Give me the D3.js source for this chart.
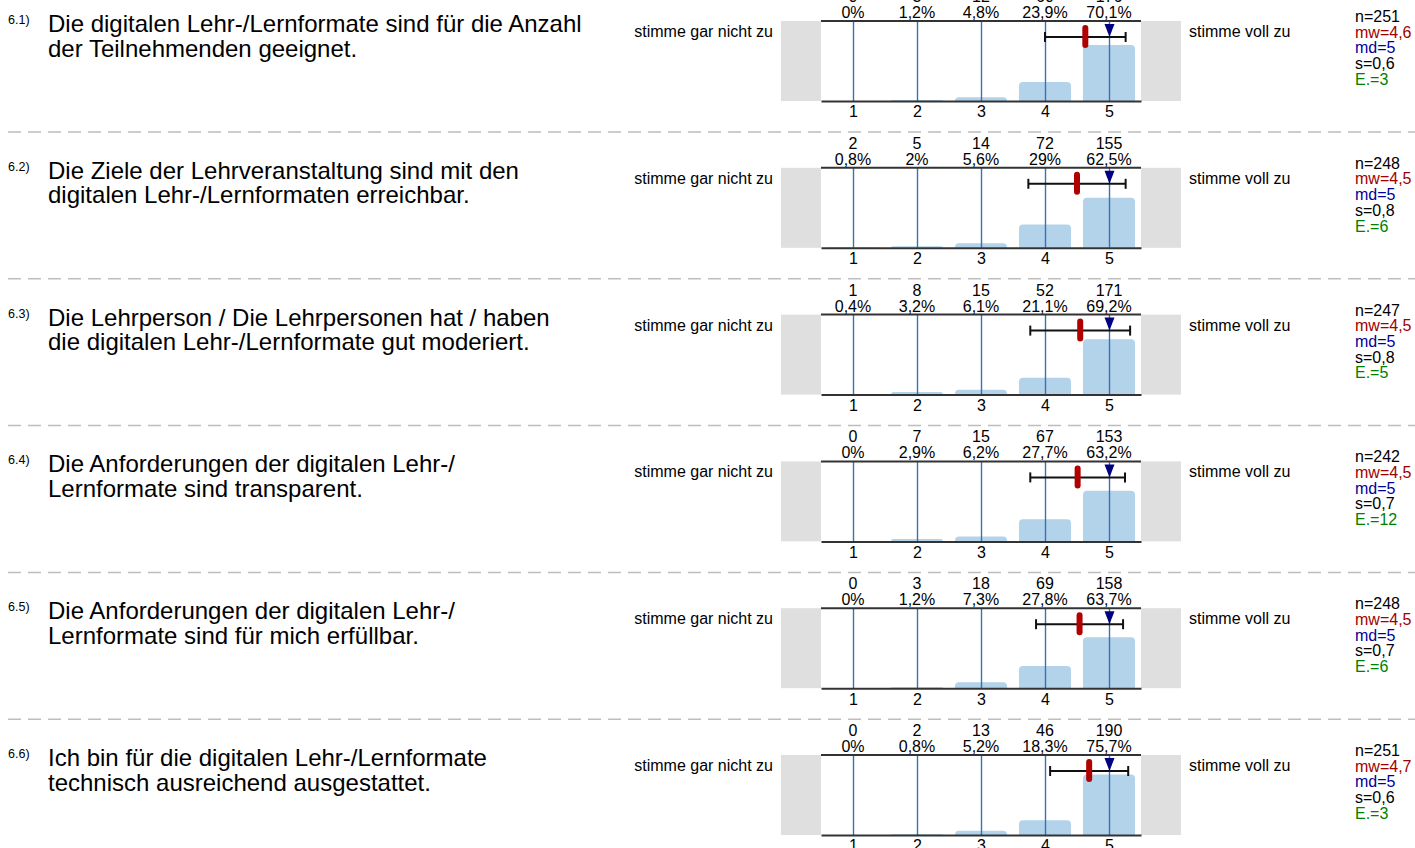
<!DOCTYPE html>
<html>
<head>
<meta charset="utf-8">
<script src="https://cdn.jsdelivr.net/npm/d3@7"></script>
<style>
body { margin: 0; background: #fff; }
svg { display: block; font-family: "Liberation Sans", Arial, sans-serif; }
</style>
</head>
<body>
<div id="chart"></div>
<script>
// chart size
var width = 1415, height = 848;

// data
var numbers = ["6.1)", "6.2)", "6.3)", "6.4)", "6.5)", "6.6)"];
var questions = [
  ["Die digitalen Lehr-/Lernformate sind für die Anzahl", "der Teilnehmenden geeignet."],
  ["Die Ziele der Lehrveranstaltung sind mit den", "digitalen Lehr-/Lernformaten erreichbar."],
  ["Die Lehrperson / Die Lehrpersonen hat / haben", "die digitalen Lehr-/Lernformate gut moderiert."],
  ["Die Anforderungen der digitalen Lehr-/", "Lernformate sind transparent."],
  ["Die Anforderungen der digitalen Lehr-/", "Lernformate sind für mich erfüllbar."],
  ["Ich bin für die digitalen Lehr-/Lernformate", "technisch ausreichend ausgestattet."]
];
var scale = [1, 2, 3, 4, 5];
var counts = [
  [0, 3, 12, 60, 176],
  [2, 5, 14, 72, 155],
  [1, 8, 15, 52, 171],
  [0, 7, 15, 67, 153],
  [0, 3, 18, 69, 158],
  [0, 2, 13, 46, 190]
];
var percents = [
  [0, 1.2, 4.8, 23.9, 70.1],
  [0.8, 2, 5.6, 29, 62.5],
  [0.4, 3.2, 6.1, 21.1, 69.2],
  [0, 2.9, 6.2, 27.7, 63.2],
  [0, 1.2, 7.3, 27.8, 63.7],
  [0, 0.8, 5.2, 18.3, 75.7]
];
var nValues = [251, 248, 247, 242, 248, 251];
var means = [4.63, 4.50, 4.55, 4.51, 4.54, 4.69];
var medians = [5, 5, 5, 5, 5, 5];
var sds = [0.63, 0.76, 0.78, 0.74, 0.68, 0.61];
var abstentions = [3, 6, 5, 12, 6, 3];
var leftLabel = "stimme gar nicht zu";
var rightLabel = "stimme voll zu";

var rowTop = 21, rowStep = 146.8, boxH = 80;
var small = "16px";

var svg = d3.select("#chart").append("svg")
  .attr("width", width)
  .attr("height", height);

var x = d3.scaleLinear().domain([0.5, 5.5]).range([821, 1141]);
var y = d3.scaleLinear().domain([0, 100]).range([boxH, 0]);

function fmt(v) {
  return String(v).replace(".", ",");
}

// rounded-top bar path
function barPath(x0, w, y0, h, r) {
  r = Math.min(r, h, w / 2);
  if (h <= 0) return "";
  return "M" + x0 + "," + (y0 + h) +
    "V" + (y0 + r) +
    "Q" + x0 + "," + y0 + " " + (x0 + r) + "," + y0 +
    "H" + (x0 + w - r) +
    "Q" + (x0 + w) + "," + y0 + " " + (x0 + w) + "," + (y0 + r) +
    "V" + (y0 + h) + "Z";
}

questions.forEach(function (q, i) {
  var g = svg.append("g").attr("transform", "translate(0," + (rowTop + i * rowStep) + ")");

  // question number and text
  g.append("text").attr("x", 8).attr("y", 3).style("font-size", "12.5px").text(numbers[i]);
  g.selectAll(".q").data(q).enter().append("text")
    .attr("x", 48)
    .attr("y", function (d, k) { return 11 + k * 24.5; })
    .style("font-size", "24px")
    .style("fill", "#000")
    .text(function (d) { return d; });

  // side panels
  g.append("rect").attr("x", 781).attr("y", 0).attr("width", 40).attr("height", boxH).style("fill", "#dfdfdf");
  g.append("rect").attr("x", 1141).attr("y", 0).attr("width", 40).attr("height", boxH).style("fill", "#dfdfdf");

  g.append("text").attr("x", 773).attr("y", 16).attr("text-anchor", "end")
    .style("font-size", small).text(leftLabel);
  g.append("text").attr("x", 1189).attr("y", 16)
    .style("font-size", small).text(rightLabel);

  // bars
  var bw = 52;
  g.selectAll(".bar").data(percents[i]).enter().append("path")
    .attr("d", function (d, k) {
      return barPath(x(scale[k]) - bw / 2, bw, y(d), boxH - y(d), 4);
    })
    .style("fill", "#b3d3ea");

  // vertical scale lines
  g.selectAll(".vl").data(scale).enter().append("line")
    .attr("x1", function (d) { return x(d) + 0.5; })
    .attr("x2", function (d) { return x(d) + 0.5; })
    .attr("y1", 0).attr("y2", boxH)
    .style("stroke", "#3672b8").style("stroke-width", 1.4);

  // top frame line
  g.append("line").attr("x1", 821).attr("x2", 1141).attr("y1", 0).attr("y2", 0)
    .style("stroke", "#333").style("stroke-width", 2);

  // bottom axis
  var ax = g.append("g").attr("transform", "translate(0," + boxH + ")")
    .call(d3.axisBottom(x).tickValues(scale).tickSize(0).tickSizeOuter(0).tickPadding(5).tickFormat(d3.format("d")));
  ax.select(".domain").style("stroke", "#333").style("stroke-width", 2);
  ax.selectAll("text").style("font-size", small).style("fill", "#000")
    .style("font-family", "Liberation Sans, Arial, sans-serif");

  // counts and percents above
  g.selectAll(".cnt").data(counts[i]).enter().append("text")
    .attr("x", function (d, k) { return x(scale[k]); })
    .attr("y", -19)
    .attr("text-anchor", "middle")
    .style("font-size", small)
    .text(function (d) { return d; });
  g.selectAll(".pct").data(percents[i]).enter().append("text")
    .attr("x", function (d, k) { return x(scale[k]); })
    .attr("y", -3)
    .attr("text-anchor", "middle")
    .style("font-size", small)
    .text(function (d) { return fmt(d) + "%"; });

  // mean +- sd
  var ey = 16;
  var lo = x(means[i] - sds[i]), hi = x(means[i] + sds[i]);
  g.append("line").attr("x1", lo).attr("x2", hi).attr("y1", ey).attr("y2", ey)
    .style("stroke", "#111").style("stroke-width", 2);
  [lo, hi].forEach(function (px) {
    g.append("line").attr("x1", px).attr("x2", px).attr("y1", ey - 5).attr("y2", ey + 5)
      .style("stroke", "#111").style("stroke-width", 2);
  });
  g.append("rect").attr("x", x(means[i]) - 3).attr("y", ey - 12).attr("width", 6).attr("height", 23)
    .attr("rx", 3).style("fill", "#b00000");

  // median triangle
  var mx = x(medians[i]) + 0.5;
  g.append("path")
    .attr("d", "M" + (mx - 5) + ",3L" + (mx + 5) + ",3L" + mx + ",16Z")
    .style("fill", "#000080");

  // stats block
  var stats = [
    { t: "n=" + nValues[i], c: "#000" },
    { t: "mw=" + fmt(means[i].toFixed(1)), c: "#a00000" },
    { t: "md=" + medians[i], c: "#000099" },
    { t: "s=" + fmt(sds[i].toFixed(1)), c: "#000" },
    { t: "E.=" + abstentions[i], c: "#008000" }
  ];
  g.selectAll(".st").data(stats).enter().append("text")
    .attr("x", 1355)
    .attr("y", function (d, k) { return 1 + k * 15.7; })
    .style("font-size", small)
    .style("fill", function (d) { return d.c; })
    .text(function (d) { return d.t; });

  // dashed separator
  if (i < questions.length - 1) {
    g.append("line").attr("x1", 8).attr("x2", 1415).attr("y1", 111).attr("y2", 111)
      .style("stroke", "#bdbdbd").style("stroke-width", 1.5)
      .style("stroke-dasharray", "13,7");
  }
});
</script>
</body>
</html>
